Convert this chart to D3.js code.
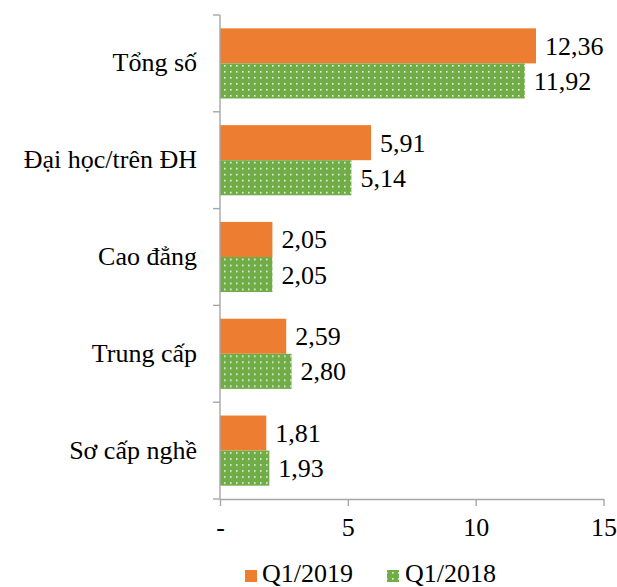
<!DOCTYPE html>
<html>
<head>
<meta charset="utf-8">
<script src="https://cdn.jsdelivr.net/npm/d3@7"></script>
<style>
  html, body { margin: 0; padding: 0; background: #fff; }
  svg { display: block; }
  text { font-family: "Liberation Serif", "Times New Roman", serif; fill: #000; }
</style>
</head>
<body>
<svg id="chart" width="617" height="587"></svg>
<script>
// Trình độ chuyên môn kỹ thuật, Q1/2019 so với Q1/2018
const categories = ["Tổng số", "Đại học/trên ĐH", "Cao đẳng", "Trung cấp", "Sơ cấp nghề"];
const seriesNames = ["Q1/2019", "Q1/2018"];
const valuesQ12019 = [12.36, 5.91, 2.05, 2.59, 1.81];
const valuesQ12018 = [11.92, 5.14, 2.05, 2.80, 1.93];
const xTicks = [0, 5, 10, 15];

const colors = { "Q1/2019": "#ED7D31", "Q1/2018": "#70AD47" };
const axisColor = "#A6A6A6";
const fontSize = 26;

const rows = categories.map((c, i) => ({
  category: c,
  values: [
    { series: "Q1/2019", value: valuesQ12019[i] },
    { series: "Q1/2018", value: valuesQ12018[i] }
  ]
}));

const svg = d3.select("#chart");

// Dotted fill for the Q1/2018 bars
const defs = svg.append("defs");
const pat = defs.append("pattern")
  .attr("id", "dots")
  .attr("patternUnits", "userSpaceOnUse")
  .attr("width", 6).attr("height", 6);
pat.append("rect").attr("width", 6).attr("height", 6).attr("fill", colors["Q1/2018"]);
pat.append("rect").attr("x", 2).attr("y", 2).attr("width", 1.6).attr("height", 1.6)
  .attr("fill", "#fff").attr("opacity", 0.85);

const fillFor = s => s === "Q1/2018" ? "url(#dots)" : colors[s];

const x = d3.scaleLinear().domain([0, 15]).range([220, 603.5]);
const y = d3.scaleBand().domain(categories).range([15, 499]).padding(0);
const inner = d3.scaleBand().domain(seriesNames)
  .range([0, y.bandwidth()]).paddingInner(0).paddingOuter(0.38);

const locale = d3.formatLocale({ decimal: ",", thousands: ".", grouping: [3], currency: ["", ""] });
const fmt = locale.format(".2f");

// Bars
const groups = svg.append("g").selectAll("g")
  .data(rows).join("g")
  .attr("transform", d => `translate(0,${y(d.category)})`);

groups.selectAll("rect")
  .data(d => d.values).join("rect")
  .attr("x", x(0))
  .attr("y", d => inner(d.series))
  .attr("width", d => x(d.value) - x(0))
  .attr("height", inner.bandwidth())
  .attr("fill", d => fillFor(d.series));

// Value labels
groups.selectAll("text.val")
  .data(d => d.values).join("text")
  .attr("class", "val")
  .attr("x", d => x(d.value) + 9)
  .attr("y", d => inner(d.series) + inner.bandwidth() / 2 + 9)
  .attr("font-size", fontSize)
  .text(d => fmt(d.value));

// X axis
const xAxis = svg.append("g")
  .attr("transform", `translate(0,${y.range()[1]})`)
  .call(d3.axisBottom(x).tickValues(xTicks).tickSize(7).tickSizeOuter(0).tickPadding(12)
    .tickFormat(d => d === 0 ? "-" : d));
xAxis.select(".domain").attr("stroke", axisColor).attr("stroke-width", 1.4);
xAxis.selectAll(".tick line").attr("stroke", axisColor).attr("stroke-width", 1.4);
xAxis.selectAll(".tick text").attr("font-size", fontSize)
  .attr("font-family", "Liberation Serif, serif").attr("fill", "#000");

// Y axis: line with ticks at band boundaries
const yAxis = svg.append("g");
yAxis.append("line")
  .attr("x1", x(0)).attr("x2", x(0))
  .attr("y1", y.range()[0]).attr("y2", y.range()[1])
  .attr("stroke", axisColor).attr("stroke-width", 1.4);
const bounds = categories.map(c => y(c)).concat([y.range()[1]]);
yAxis.selectAll("line.tk").data(bounds).join("line")
  .attr("class", "tk")
  .attr("x1", x(0) - 7).attr("x2", x(0))
  .attr("y1", d => d).attr("y2", d => d)
  .attr("stroke", axisColor).attr("stroke-width", 1.4);
yAxis.selectAll("text").data(categories).join("text")
  .attr("x", x(0) - 23)
  .attr("y", d => y(d) + y.bandwidth() / 2 + 8)
  .attr("text-anchor", "end")
  .attr("font-size", fontSize)
  .text(d => d);

// Legend
const legendItems = [
  { name: "Q1/2019", sx: 245, tx: 262 },
  { name: "Q1/2018", sx: 387, tx: 405 }
];
const legend = svg.append("g");
legend.selectAll("rect").data(legendItems).join("rect")
  .attr("x", d => d.sx).attr("y", 570)
  .attr("width", 12).attr("height", 12)
  .attr("fill", d => fillFor(d.name));
legend.selectAll("text").data(legendItems).join("text")
  .attr("x", d => d.tx).attr("y", 582)
  .attr("font-size", fontSize)
  .text(d => d.name);
</script>
</body>
</html>
